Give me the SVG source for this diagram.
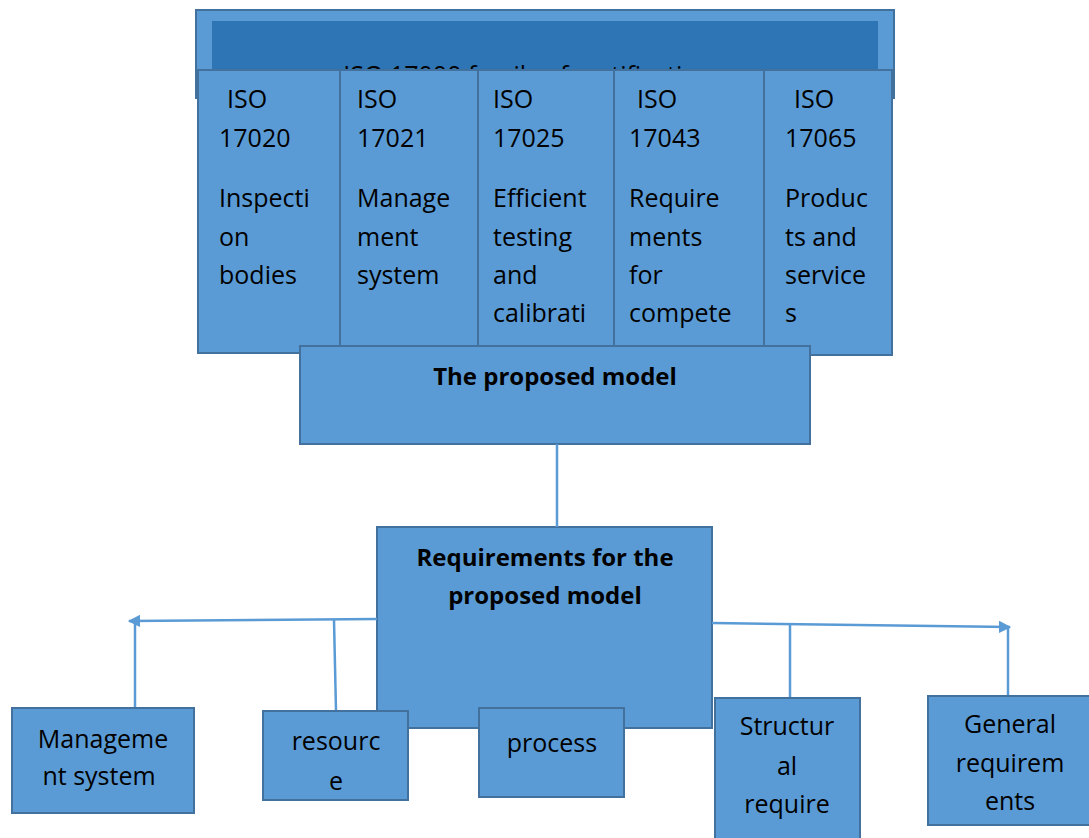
<svg xmlns="http://www.w3.org/2000/svg" width="1089" height="838" viewBox="0 0 1089 838">
  <style>
    .box { fill: #5B9BD5; stroke: #41719C; stroke-width: 2; }
    .inner { fill: #2E75B6; stroke: none; }
    .t { font-family: "Open Sans", "Liberation Sans", sans-serif; font-size: 25px; fill: #000; font-variant-ligatures: none; }
    .b { font-family: "Open Sans", "Liberation Sans", sans-serif; font-size: 24px; font-weight: bold; fill: #000; }
    .c { text-anchor: middle; }
    .link { fill: none; stroke: #5B9BD5; stroke-width: 2.5; }
  </style>
  <defs>
    <marker id="arrow" viewBox="0 0 10 10" refX="9" refY="5" markerWidth="5" markerHeight="5" orient="auto">
      <path d="M0,0 L10,5 L0,10 z" fill="#5B9BD5"/>
    </marker>
    <clipPath id="bandClip">
      <rect x="212" y="21" width="666" height="49"/>
    </clipPath>
  </defs>
  <rect width="1089" height="838" fill="#fff"/>

  <!-- header band; its title sits behind the standards columns -->
  <g id="header">
    <rect class="box" x="196" y="10" width="698" height="88"/>
    <rect class="inner" x="212" y="21" width="666" height="50"/>
    <text class="t c" x="528" y="84" clip-path="url(#bandClip)" fill="#1f3a5a">ISO 17000 family of certification</text>
  </g>

  <!-- standards columns -->
  <g id="iso17020">
    <rect class="box" x="198" y="70" width="142" height="283"/>
    <text class="t" x="227" y="108">ISO</text>
    <text class="t" x="219" y="147">17020</text>
    <text class="t" x="219" y="207">Inspecti</text>
    <text class="t" x="219" y="246">on</text>
    <text class="t" x="219" y="284">bodies</text>
  </g>
  <g id="iso17021">
    <rect class="box" x="340" y="70" width="138" height="283"/>
    <text class="t" x="357" y="108">ISO</text>
    <text class="t" x="357" y="147">17021</text>
    <text class="t" x="357" y="207">Manage</text>
    <text class="t" x="357" y="246">ment</text>
    <text class="t" x="357" y="284">system</text>
  </g>
  <g id="iso17025">
    <rect class="box" x="478" y="70" width="136" height="283"/>
    <text class="t" x="493" y="108">ISO</text>
    <text class="t" x="493" y="147">17025</text>
    <text class="t" x="493" y="207">Efficient</text>
    <text class="t" x="493" y="246">testing</text>
    <text class="t" x="493" y="284">and</text>
    <text class="t" x="493" y="322">calibrati</text>
  </g>
  <g id="iso17043">
    <rect class="box" x="614" y="70" width="150" height="283"/>
    <text class="t" x="637" y="108">ISO</text>
    <text class="t" x="629" y="147">17043</text>
    <text class="t" x="629" y="207">Require</text>
    <text class="t" x="629" y="246">ments</text>
    <text class="t" x="629" y="284">for</text>
    <text class="t" x="629" y="322">compete</text>
  </g>
  <g id="iso17065">
    <rect class="box" x="764" y="70" width="128" height="285"/>
    <text class="t" x="794" y="108">ISO</text>
    <text class="t" x="785" y="147">17065</text>
    <text class="t" x="785" y="207">Produc</text>
    <text class="t" x="785" y="246">ts and</text>
    <text class="t" x="785" y="284">service</text>
    <text class="t" x="785" y="322">s</text>
  </g>

  <g id="proposed-model">
    <rect class="box" x="300" y="346" width="510" height="98"/>
    <text class="b c" x="555" y="385">The proposed model</text>
  </g>

  <g id="requirements">
    <rect class="box" x="377" y="527" width="335" height="201"/>
    <text class="b c" x="545" y="566">Requirements for the</text>
    <text class="b c" x="545" y="604">proposed model</text>
  </g>

  <!-- connectors -->
  <g id="connectors">
    <line class="link" x1="557" y1="444" x2="557" y2="527"/>
    <line class="link" x1="377" y1="619" x2="129" y2="621" marker-end="url(#arrow)"/>
    <line class="link" x1="135" y1="621" x2="135" y2="708"/>
    <line class="link" x1="334" y1="620" x2="336" y2="711"/>
    <line class="link" x1="712" y1="623" x2="1010" y2="627" marker-end="url(#arrow)"/>
    <line class="link" x1="790" y1="624" x2="790" y2="698"/>
    <line class="link" x1="1008" y1="627" x2="1008" y2="696"/>
  </g>

  <g id="management-system">
    <rect class="box" x="12" y="708" width="182" height="105"/>
    <text class="t c" x="103" y="748">Manageme</text>
    <text class="t c" x="99" y="785">nt system</text>
  </g>
  <g id="resource">
    <rect class="box" x="263" y="711" width="145" height="89"/>
    <text class="t c" x="336" y="750">resourc</text>
    <text class="t c" x="336" y="790">e</text>
  </g>
  <g id="process">
    <rect class="box" x="479" y="708" width="145" height="89"/>
    <text class="t c" x="552" y="752">process</text>
  </g>
  <g id="structural">
    <rect class="box" x="715" y="698" width="145" height="142"/>
    <text class="t c" x="787" y="735">Structur</text>
    <text class="t c" x="787" y="775">al</text>
    <text class="t c" x="787" y="813">require</text>
  </g>
  <g id="general">
    <rect class="box" x="928" y="696" width="162" height="129"/>
    <text class="t c" x="1010" y="733">General</text>
    <text class="t c" x="1010" y="772">requirem</text>
    <text class="t c" x="1010" y="810">ents</text>
  </g>
</svg>
